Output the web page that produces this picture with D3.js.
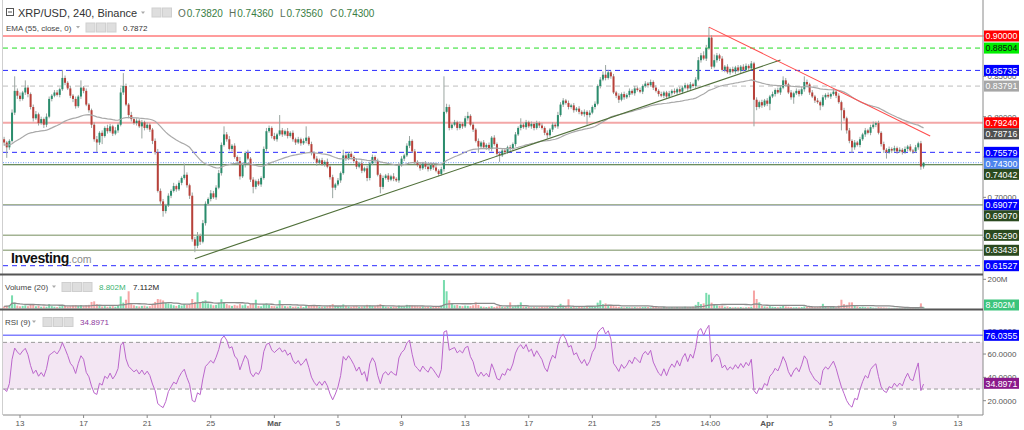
<!DOCTYPE html>
<html><head><meta charset="utf-8">
<script src="https://cdn.jsdelivr.net/npm/d3@7"></script>
<style>
html,body{margin:0;padding:0;background:#fff;}
svg{display:block;font-family:"Liberation Sans",Arial,sans-serif;}
</style></head><body>
<svg id="c" width="1024" height="430"></svg>
<script>
// ---------- DATA (prices in thousandths, volumes in millions) ----------
const firstOpen = 772;
const closes = [
768,762,770,805,832,826,822,830,836,828,
812,798,803,792,797,790,800,822,826,830,
827,834,848,842,835,826,822,813,825,836,
832,815,808,790,772,768,780,776,786,782,
788,779,783,790,830,838,815,802,797,792,
795,788,793,786,790,784,770,756,708,695,
683,690,702,708,714,710,718,724,728,715,
702,648,640,652,645,668,692,698,705,700,
712,730,765,778,772,760,764,750,745,726,
740,755,748,722,713,720,716,724,760,782,
786,776,772,778,783,778,782,776,780,772,
768,772,767,770,774,766,755,748,743,746,
741,744,738,725,712,716,721,730,752,748,
754,750,745,738,742,733,736,724,742,750,
745,728,713,724,727,722,726,723,721,740,
748,752,764,770,757,744,740,736,742,738,
735,740,737,733,729,735,806,812,786,790,
793,786,791,788,798,801,790,784,770,763,
768,762,765,760,774,766,754,752,758,756,
762,760,766,778,786,790,787,793,788,791,
786,792,789,786,780,777,784,790,788,802,
815,820,817,812,814,808,810,806,803,806,
802,805,812,816,838,846,852,848,855,850,
830,826,821,828,824,827,832,829,835,833,
831,838,841,839,843,836,832,828,826,830,
825,829,832,830,834,831,836,839,835,840,
838,846,870,876,872,885,898,862,870,876,
872,858,862,855,859,856,861,857,862,858,
863,860,866,821,812,818,814,820,816,825,
828,833,830,836,845,840,830,824,829,832,
828,834,843,840,830,825,820,818,814,824,
827,825,828,831,826,818,808,798,783,770,
762,768,765,772,778,783,780,787,790,792,
780,766,759,756,760,758,761,757,759,756,
760,763,758,757,762,767,738.2,743];
const upWick = [
3,2,2,4,18,3,4,2,9,3, 2,3,4,2,3,2,4,3,2,3, 3,2,10,3,2,3,2,3,2,9, 2,3,2,2,3,4,2,3,2,4,
3,2,4,2,6,16,3,2,4,2, 3,2,3,2,3,2,2,3,4,3, 3,2,3,2,4,2,3,2,14,3, 2,4,3,5,3,4,3,2,4,3,
3,4,3,10,3,4,2,3,2,5, 3,2,4,2,3,2,3,2,3,4, 3,2,4,2,19,3,2,4,2,3, 2,3,2,3,14,2,3,2,3,2,
3,2,4,2,3,2,3,2,7,3, 2,3,2,3,2,4,2,3,2,3, 2,3,2,3,2,3,2,4,2,3, 3,2,3,6,2,3,2,3,2,3,
2,3,2,3,2,3,44,4,3,2, 3,2,3,2,3,5,2,3,2,3, 2,3,2,3,2,3,2,3,2,3, 2,3,2,3,2,8,2,3,2,3,
2,3,2,3,2,3,2,3,2,4, 3,3,2,3,2,3,2,3,2,3, 2,3,2,3,2,3,4,12,3,2, 3,2,3,2,3,2,3,2,3,2,
3,2,3,2,3,2,3,2,3,2, 2,3,2,3,2,3,2,3,2,3, 2,3,4,3,5,4,13,3,7,3, 2,3,2,3,2,3,2,3,2,3,
3,2,3,2,3,2,3,2,3,2, 3,2,3,2,5,3,2,3,2,3, 2,3,7,3,2,3,2,3,2,3, 2,3,2,3,2,3,2,3,2,3,
2,3,2,3,2,3,2,3,4,2, 3,2,3,2,3,2,3,2,3,2, 3,2,3,2,3,2,3,0.6];
const dnWick = [
4,13,3,2,3,4,3,2,3,4, 3,4,2,3,2,4,3,2,3,2, 2,3,2,3,2,3,4,3,2,3, 3,2,3,4,3,12,3,10,2,3,
2,3,2,3,2,3,2,4,3,2, 3,2,15,3,2,3,4,3,2,3, 7,3,2,3,2,3,2,3,2,3, 4,3,8,3,4,2,3,2,3,2,
3,2,3,2,3,2,3,2,3,4, 2,3,2,3,8,3,2,3,2,3, 2,3,2,3,2,3,2,3,2,3, 3,2,3,2,3,2,3,2,4,2,
2,3,2,3,13,3,2,3,2,3, 2,3,2,3,2,3,2,4,3,2, 3,2,8,3,2,3,2,3,2,3, 2,3,2,3,2,3,2,3,2,3,
3,2,3,2,3,2,3,2,3,2, 2,3,2,3,2,3,2,3,2,8, 3,2,3,2,3,2,3,8,2,3, 2,3,2,3,2,3,2,3,2,3,
3,2,3,2,3,4,2,3,2,3, 2,3,2,3,2,3,2,3,2,3, 12,3,2,3,2,3,2,3,2,3, 2,3,4,2,3,2,3,2,3,2,
2,3,2,3,2,3,2,3,2,3, 3,2,3,2,3,2,3,2,3,2, 2,3,2,3,2,3,2,3,2,3, 3,2,3,2,3,2,3,2,3,2,
2,3,2,33,4,2,3,2,3,8, 2,3,2,3,2,3,2,3,8,2, 3,2,3,2,3,2,3,2,6,2, 3,2,3,2,3,2,25,3,4,3,
7,3,2,3,2,3,2,3,2,3, 2,3,4,8,2,3,2,3,2,3, 2,3,2,3,2,3,4,2.6];
const volumes = [
14,18,22,90,40,20,15,18,22,16, 28,24,15,18,12,14,12,30,16,12, 10,14,25,18,14,16,20,22,18,24,
16,22,25,45,49,30,20,14,16,12, 14,16,12,18,83,40,60,118,30,22, 16,14,18,20,14,16,30,45,65,62,
55,40,35,28,22,18,25,20,30,24, 30,65,45,111,40,50,56,35,28,22, 25,40,63,40,30,22,18,25,20,30,
22,28,18,30,35,60,18,15,30,35, 25,18,16,14,56,22,16,14,18,12, 14,12,16,10,20,18,25,22,20,14,
12,14,16,22,30,18,15,16,28,18, 14,12,16,18,12,14,16,25,22,18, 16,25,30,18,12,10,12,14,10,20,
16,14,25,22,20,18,16,14,12,10, 12,10,12,14,16,20,195,118,56,30, 22,25,18,16,20,18,16,22,42,25,
14,12,10,12,16,10,14,18,12,10, 12,42,14,20,25,42,15,12,10,8, 10,8,9,12,10,14,12,10,8,18,
32,20,14,63,12,10,8,10,12,9, 14,10,12,16,40,56,30,35,22,18, 20,14,12,10,8,10,9,8,10,8,
9,10,12,10,8,12,10,9,8,10, 8,7,9,8,10,7,8,12,9,10, 12,25,45,30,35,107,95,40,25,22,
18,20,12,14,10,8,9,8,10,7, 8,10,12,123,65,42,20,14,12,16, 12,10,9,12,18,14,12,10,8,9,
8,10,14,12,10,12,9,10,14,32, 10,8,9,12,8,20,60,30,25,42, 42,20,14,10,12,9,8,10,6,5,
9,8,7,6,5,4,5,4,5,6, 5,4,5,4,6,7,35,8.802];

const emaSeed = 0.765;          // EMA value at the first visible bar (read)
const rsiSeedGain = 3, rsiSeedLoss = 7;   // RSI ~30 at the first visible bar (read)

const levelPrices = [0.90000,0.88504,0.85735,0.83791,0.79240,0.75579,0.74300,0.74042,0.69077,0.69070,0.65290,0.63439,0.61527];
const emaLabelValue = 0.78716;
const priceTicks = [0.65,0.70,0.75,0.80,0.85,0.90];
const rsiTicks = [20,40,60,80];
const rsiBands = [30,70];
const rsiLevel = 76.0355;
const rsiLast = 34.8971;
const volTicks = [200];
const volLast = 8.802, volMA = 7.112;
const ohlcHeader = {O:"0.73820",H:"0.74360",L:"0.73560",C:"0.74300"};
const emaHeader = "0.7872";
const tickDates = ["2018-02-13","2018-02-17","2018-02-21","2018-02-25","2018-03-01","2018-03-05","2018-03-09","2018-03-13","2018-03-17","2018-03-21","2018-03-25","2018-03-28T10:00","2018-04-01","2018-04-05","2018-04-09","2018-04-13"];
const tickLabels = ["13","17","21","25","Mar","5","9","13","17","21","25","14:00","Apr","5","9","13"];
const ascTrend = [["2018-02-24T00:00",0.624],["2018-04-01T20:00",0.8703]];
const descTrend = [["2018-03-28T08:00",0.911],["2018-04-11T06:00",0.776]];

// ---------- STYLES ----------
const levelStyle = [
 {c:"#ff3b3b",w:1,d:null},{c:"#22dd22",w:1,d:"5,4"},{c:"#2a2aff",w:1,d:"5,4"},{c:"#bdbdbd",w:1,d:"5,4"},
 {c:"#f08a8a",w:2,d:null},{c:"#2a2aff",w:1,d:"5,4"},{c:"#6b9cf5",w:1,d:"1,1.5"},{c:"#3d6a2c",w:1,d:null},
 {c:"#2a2aff",w:1,d:null},{c:"#a3b393",w:1.5,d:null},{c:"#a3b393",w:1.5,d:null},{c:"#a3b393",w:1.5,d:null},{c:"#2a2aff",w:1,d:"5,4"}];
const labelStyle = [
 {bg:"#ff0000",fg:"#fff"},{bg:"#00ee00",fg:"#111"},{bg:"#0000ff",fg:"#fff"},{bg:"#a6a6a6",fg:"#fff"},
 {bg:"#ff0000",fg:"#fff"},{bg:"#0000ff",fg:"#fff"},{bg:"#4d84ee",fg:"#fff"},{bg:"#2b4a1f",fg:"#fff"},
 {bg:"#0000ff",fg:"#fff"},{bg:"#2b4a1f",fg:"#fff"},{bg:"#2b4a1f",fg:"#fff"},{bg:"#2b4a1f",fg:"#fff"},{bg:"#0000ff",fg:"#fff"}];
const UP="#2a8c6c", DN="#b8413a", WICK="#9aa5a0";

// ---------- LAYOUT ----------
const L=3, R=983;
const mainTop=0, mainBot=273, volTop=277, volBot=308.5, rsiTop=311, rsiBot=415;
const svg=d3.select("#c");
const parse = s => new Date(s+(s.length>10?"":"T00:00")+"Z");
const t0 = Date.UTC(2018,1,12,0,0), H4=4*3600e3;
const data = closes.map((c,i)=>{
  const o = i===0?firstOpen:closes[i-1];
  return {date:new Date(t0+i*H4), o:o/1000, c:c/1000,
          h:(Math.max(o,c)+upWick[i])/1000, l:(Math.min(o,c)-dnWick[i])/1000, v:volumes[i]};
});
const x = d3.scaleUtc().domain([parse("2018-02-13"),parse("2018-04-13")]).range([20,958]);
const y = d3.scaleLinear().domain([0.61527,0.9]).range([265.7,36]);
const yv = d3.scaleLinear().domain([0,200]).range([volBot,279.3]);
const yr = d3.scaleLinear().domain([20,80]).range([400.7,330.7]);

// indicators
const ema=[]; {let e=emaSeed; data.forEach((d,i)=>{ if(i>0) e=e+(2/56)*(d.c-e); ema.push(e);});}
const rsi=[]; {let ag=rsiSeedGain, al=rsiSeedLoss; closes.forEach((c,i)=>{ if(i>0){const ch=c-closes[i-1]; ag=(ag*8+Math.max(ch,0))/9; al=(al*8+Math.max(-ch,0))/9;} rsi.push(100-100/(1+ag/al));});}
const vma = volumes.map((v,i)=>d3.mean(volumes.slice(Math.max(0,i-19),i+1)));

const defs=svg.append("defs");
[["cm",mainTop,mainBot],["cv",volTop,volBot],["cr",rsiTop,rsiBot]].forEach(([id,a,b])=>{
  defs.append("clipPath").attr("id",id).append("rect").attr("x",L).attr("y",a).attr("width",R-L).attr("height",b-a);
});

// ---------- MAIN PANE ----------
const gm = svg.append("g").attr("clip-path","url(#cm)");
levelPrices.forEach((p,i)=>{
  const s=levelStyle[i];
  gm.append("line").attr("x1",L).attr("x2",R).attr("y1",y(p)).attr("y2",y(p))
    .attr("stroke",s.c).attr("stroke-width",s.w).attr("stroke-dasharray",s.d).attr("opacity",i===4?0.75:1);
});
gm.append("g").selectAll("line").data(data).join("line")
  .attr("x1",d=>x(d.date)).attr("x2",d=>x(d.date)).attr("y1",d=>y(d.h)).attr("y2",d=>y(d.l))
  .attr("stroke",WICK).attr("stroke-width",1);
gm.append("g").selectAll("rect").data(data).join("rect")
  .attr("x",d=>x(d.date)-1).attr("width",2)
  .attr("y",d=>y(Math.max(d.o,d.c))).attr("height",d=>Math.max(1,Math.abs(y(d.o)-y(d.c))))
  .attr("fill",d=>d.c>=d.o?UP:DN);
gm.append("path").datum(ema).attr("fill","none").attr("stroke","#a9a9a9").attr("stroke-width",1.2)
  .attr("d",d3.line().x((e,i)=>x(data[i].date)).y(e=>y(e)));
[[ascTrend,"#50703a"],[descTrend,"#ff4d4d"]].forEach(([tl,col])=>{
  gm.append("line").attr("x1",x(parse(tl[0][0]))).attr("y1",y(tl[0][1])).attr("x2",x(parse(tl[1][0]))).attr("y2",y(tl[1][1]))
    .attr("stroke",col).attr("stroke-width",1.1);
});
// watermark
const wm=svg.append("text").attr("x",11).attr("y",262.5);
wm.append("tspan").text("Investing").attr("font-weight","bold").attr("font-size",14).attr("letter-spacing",-0.4).attr("fill","#111");
wm.append("tspan").text(".com").attr("font-size",10.5).attr("fill","#8a8a8a");

// ---------- VOLUME ----------
const gv = svg.append("g").attr("clip-path","url(#cv)");
gv.selectAll("rect").data(data).join("rect")
  .attr("x",d=>x(d.date)-1).attr("width",2).attr("y",d=>yv(d.v)).attr("height",d=>Math.max(0.5,volBot-yv(d.v)))
  .attr("fill",d=>d.c>=d.o?"#79dcae":"#f6a5a5");
gv.append("path").datum(vma).attr("fill","none").attr("stroke","#8c8c8c").attr("stroke-width",1.3)
  .attr("d",d3.line().x((v,i)=>x(data[i].date)).y(v=>yv(v)));

// ---------- RSI ----------
const gr = svg.append("g").attr("clip-path","url(#cr)");
gr.append("rect").attr("x",L).attr("width",R-L).attr("y",yr(rsiBands[1])).attr("height",yr(rsiBands[0])-yr(rsiBands[1])).attr("fill","#f3e6f3");
rsiBands.forEach(b=>gr.append("line").attr("x1",L).attr("x2",R).attr("y1",yr(b)).attr("y2",yr(b)).attr("stroke","#999").attr("stroke-dasharray","4,3"));
gr.append("line").attr("x1",L).attr("x2",R).attr("y1",yr(rsiLevel)).attr("y2",yr(rsiLevel)).attr("stroke","#8080ff").attr("stroke-width",1.5);
gr.append("path").datum(rsi).attr("fill","none").attr("stroke","#bb66cc").attr("stroke-width",1)
  .attr("d",d3.line().x((r,i)=>x(data[i].date)).y(r=>yr(r)));

// ---------- FRAMES ----------
svg.append("line").attr("x1",2.5).attr("x2",2.5).attr("y1",0).attr("y2",rsiBot).attr("stroke","#cfcfcf");
svg.append("line").attr("x1",R).attr("x2",R).attr("y1",0).attr("y2",rsiBot).attr("stroke","#8a8a8a");
[274.5,309.5].forEach(v=>svg.append("line").attr("x1",0).attr("x2",R).attr("y1",v).attr("y2",v).attr("stroke","#555").attr("stroke-width",2));
svg.append("line").attr("x1",L).attr("x2",R).attr("y1",rsiBot).attr("y2",rsiBot).attr("stroke","#8a8a8a");

// ---------- PRICE LABEL POSITIONS ----------
const labs = levelPrices.map((p,i)=>({p,txt:p.toFixed(5),st:labelStyle[i]}));
labs.push({p:emaLabelValue,txt:emaLabelValue.toFixed(5),st:{bg:"#505050",fg:"#fff"}});
labs.sort((a,b)=>b.p-a.p);
{let prev=-1e9; labs.forEach(l=>{l.yy=Math.max(y(l.p),prev+11); prev=l.yy;});}

// ---------- AXES TEXT ----------
const ax=svg.append("g").attr("font-size",8).attr("fill","#555");
priceTicks.forEach(p=>{
  ax.append("line").attr("x1",R).attr("x2",R+3).attr("y1",y(p)).attr("y2",y(p)).attr("stroke","#888");
  const hidden = labs.some(l=>Math.abs(l.yy-y(p))<5);   // covered by a price label, as on the platform
  if(!hidden) ax.append("text").attr("x",R+4.5).attr("y",y(p)+3).text(p.toFixed(5));});
volTicks.forEach(v=>{ax.append("line").attr("x1",R).attr("x2",R+3).attr("y1",yv(v)).attr("y2",yv(v)).attr("stroke","#888");
  ax.append("text").attr("x",R+4.5).attr("y",yv(v)+3).text(v+"M");});
rsiTicks.forEach(v=>{ax.append("line").attr("x1",R).attr("x2",R+3).attr("y1",yr(v)).attr("y2",yr(v)).attr("stroke","#888");
  ax.append("text").attr("x",R+4.5).attr("y",yr(v)+3).text(v.toFixed(4));});
tickDates.forEach((t,i)=>{const xx=x(parse(t));
  ax.append("line").attr("x1",xx).attr("x2",xx).attr("y1",rsiBot).attr("y2",rsiBot+3).attr("stroke","#888");
  ax.append("text").attr("x",xx).attr("y",rsiBot+11).attr("text-anchor","middle").attr("font-weight",/^[A-Z]/.test(tickLabels[i])?"bold":null).text(tickLabels[i]);});

function box(yc,txt,bg,fg){
  svg.append("rect").attr("x",R+1).attr("y",yc-5.5).attr("width",35).attr("height",11).attr("fill",bg);
  svg.append("text").attr("x",R+2.5).attr("y",yc+3.2).attr("font-size",8.8).attr("fill",fg).text(txt);
}
labs.forEach(l=>box(l.yy,l.txt,l.st.bg,l.st.fg));
box(yr(rsiLevel),rsiLevel.toFixed(4),"#0000ff","#fff");
box(yr(rsiLast),rsiLast.toFixed(4),"#8b1a8b","#fff");
box(Math.min(yv(volLast),volBot-3.5),volLast.toFixed(3)+"M","#3cc47c","#fff");

// ---------- HEADERS ----------
function icons(x0,yc,n){for(let k=0;k<n;k++) svg.append("rect").attr("x",x0+k*10.5).attr("y",yc-4.5).attr("width",9).attr("height",9).attr("fill","#dedede").attr("stroke","#cfcfcf");}
function caret(x0,yc){svg.append("path").attr("d",`M${x0},${yc-1.5}l4,0l-2,2.5z`).attr("fill","#aaa");}
// main
svg.append("rect").attr("x",6.5).attr("y",8.5).attr("width",7).attr("height",7).attr("fill","none").attr("stroke","#555");
svg.append("line").attr("x1",8).attr("x2",12).attr("y1",12).attr("y2",12).attr("stroke","#555");
svg.append("text").attr("x",18).attr("y",16.5).attr("font-size",11).attr("fill","#333").text("XRP/USD, 240, Binance");
caret(141,13); icons(152,12.5,2);
[["O",178],["H",229],["L",280],["C",330]].forEach(([k,xx])=>{
  const t=svg.append("text").attr("x",xx).attr("y",16.5).attr("font-size",10);
  t.append("tspan").attr("fill","#5b6e5b").text(k);
  t.append("tspan").attr("fill","#3a7d44").attr("dx",1).text(ohlcHeader[k]);
});
svg.append("text").attr("x",6).attr("y",30.5).attr("font-size",8).attr("fill","#444").text("EMA (55, close, 0)");
caret(76,27.5); icons(86,27.5,3);
svg.append("text").attr("x",123).attr("y",30.5).attr("font-size",8).attr("fill","#333").text(emaHeader);
// volume
svg.append("text").attr("x",5).attr("y",290).attr("font-size",8).attr("fill","#444").text("Volume (20)");
caret(52,287); icons(62,287,3);
svg.append("text").attr("x",99).attr("y",290).attr("font-size",8).attr("fill","#3cb371").text(volLast.toFixed(3)+"M");
svg.append("text").attr("x",133).attr("y",290).attr("font-size",8).attr("fill","#222").text(volMA.toFixed(3)+"M");
// rsi
svg.append("text").attr("x",5).attr("y",325).attr("font-size",8).attr("fill","#444").text("RSI (9)");
caret(32,322); icons(43,322,3);
svg.append("text").attr("x",80).attr("y",325).attr("font-size",8).attr("fill","#8e3a9e").text(rsiLast.toFixed(4));
</script>
</body></html>
